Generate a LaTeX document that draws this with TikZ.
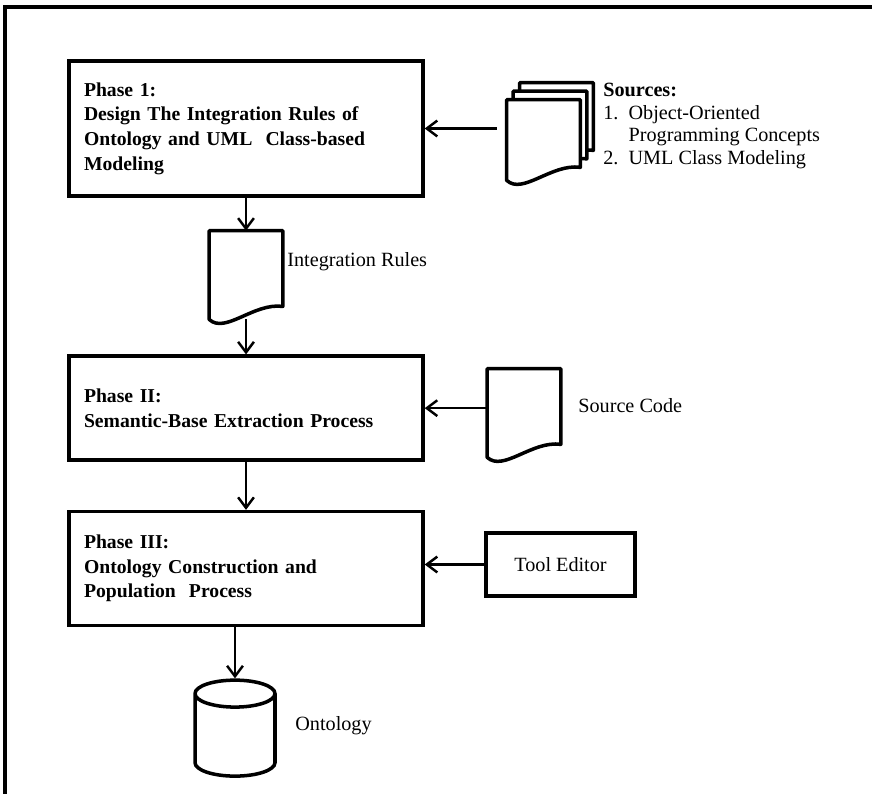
\documentclass[tikz,border=0pt]{standalone}
\usepackage{fontspec}
\setmainfont{Liberation Serif}
\usetikzlibrary{positioning, shapes.geometric, arrows.meta, calc}

% document symbol drawn on an empty node
\newcommand{\docoutline}[1]{%
  \draw[docline] (#1.north west) -- (#1.north east) -- ($(#1.south east)+(0,13)$)
    .. controls ($(#1.south east)+(-29,17)$) and ($(#1.south west)+(16,-15)$) .. (#1.south west) -- cycle;}

\begin{document}
\begin{tikzpicture}[
    x=0.02cm, y=0.02cm,
    phase/.style={rectangle, draw, line width=2pt, minimum width=7.08cm, text width=6.48cm, align=left, inner xsep=0.3cm, font=\bfseries\fontsize{11.2}{14}\selectfont},
    docnode/.style={rectangle, minimum width=1.46cm, minimum height=1.76cm, inner sep=0pt},
    docline/.style={line width=2pt, fill=white, line join=round},
    dbnode/.style={cylinder, draw, line width=2pt, shape border rotate=90, aspect=2.3, minimum width=1.6cm, minimum height=1.92cm},
    toolbox/.style={rectangle, draw, line width=2pt, minimum width=2.98cm, minimum height=1.26cm, font=\fontsize{11.5}{14}\selectfont},
    lbl/.style={inner sep=0pt, anchor=west, align=left, font=\fontsize{11.5}{13}\selectfont},
    arr/.style={-{Straight Barb[length=6pt, width=9pt, line width=1.4pt]}, line width=1.4pt},
    frame/.style={line width=2.2pt}
]
\useasboundingbox (0,0) rectangle (872,-794);

% Frame
\draw[frame] (5,-794) -- (5,-7) -- (872,-7);

% Phases
\node[phase, minimum height=2.7cm] (p1) at (246,-128.5) {Phase 1:\\ Design The Integration Rules of\\ Ontology and UML\ \ Class-based\\ Modeling};
\node[docnode, below=0.66cm of p1] (intr) {};
\node[phase, minimum height=2.08cm, below=0.7cm of intr] (p2) {Phase II:\\ Semantic-Base Extraction Process};
\node[phase, minimum height=2.28cm, below=0.96cm of p2] (p3) {Phase III:\\ Ontology Construction and\\ Population\ \ Process};
\node[dbnode, below=1.02cm of p3, xshift=-0.22cm] (onto) {};

% Inputs on the right
\node[docnode, minimum height=1.6cm] (stk3) at (556.5,-123) {};
\node[docnode, minimum height=1.6cm] (stk2) at (550,-131.5) {};
\node[docnode, minimum height=1.6cm] (stk) at (543.5,-140) {};
\node[docnode] (code) at (524,-413) {};
\node[toolbox] (tool) at (560.5,-564.5) {Tool Editor};

\docoutline{intr}
\docoutline{stk3}
\docoutline{stk2}
\docoutline{stk}
\docoutline{code}

% Labels
\node[lbl] (srcl) at (603,-126) {\textbf{Sources:}\\ 1.\ \ Object-Oriented\\ \phantom{1.\ \ }Programming Concepts\\ 2.\ \ UML Class Modeling};
\node[lbl] (intrl) at (287,-262) {Integration Rules};
\node[lbl] (codel) at (578,-406) {Source Code};
\node[lbl] (ontol) at (295,-726) {Ontology};

% Edges
\draw[arr] (p1) -- (intr);
\draw[arr] (intr) -- (p2);
\draw[arr] (p2) -- (p3);
\draw[arr] (p3.south -| onto.north) -- (onto.north);
\draw[arr, shorten <=5.6pt] (p1.east -| stk.west) -- (p1.east);
\draw[arr] (p2.east -| code.west) -- (p2.east);
\draw[arr] (tool.west) -- (tool.west -| p3.east);

\end{tikzpicture}
\end{document}
